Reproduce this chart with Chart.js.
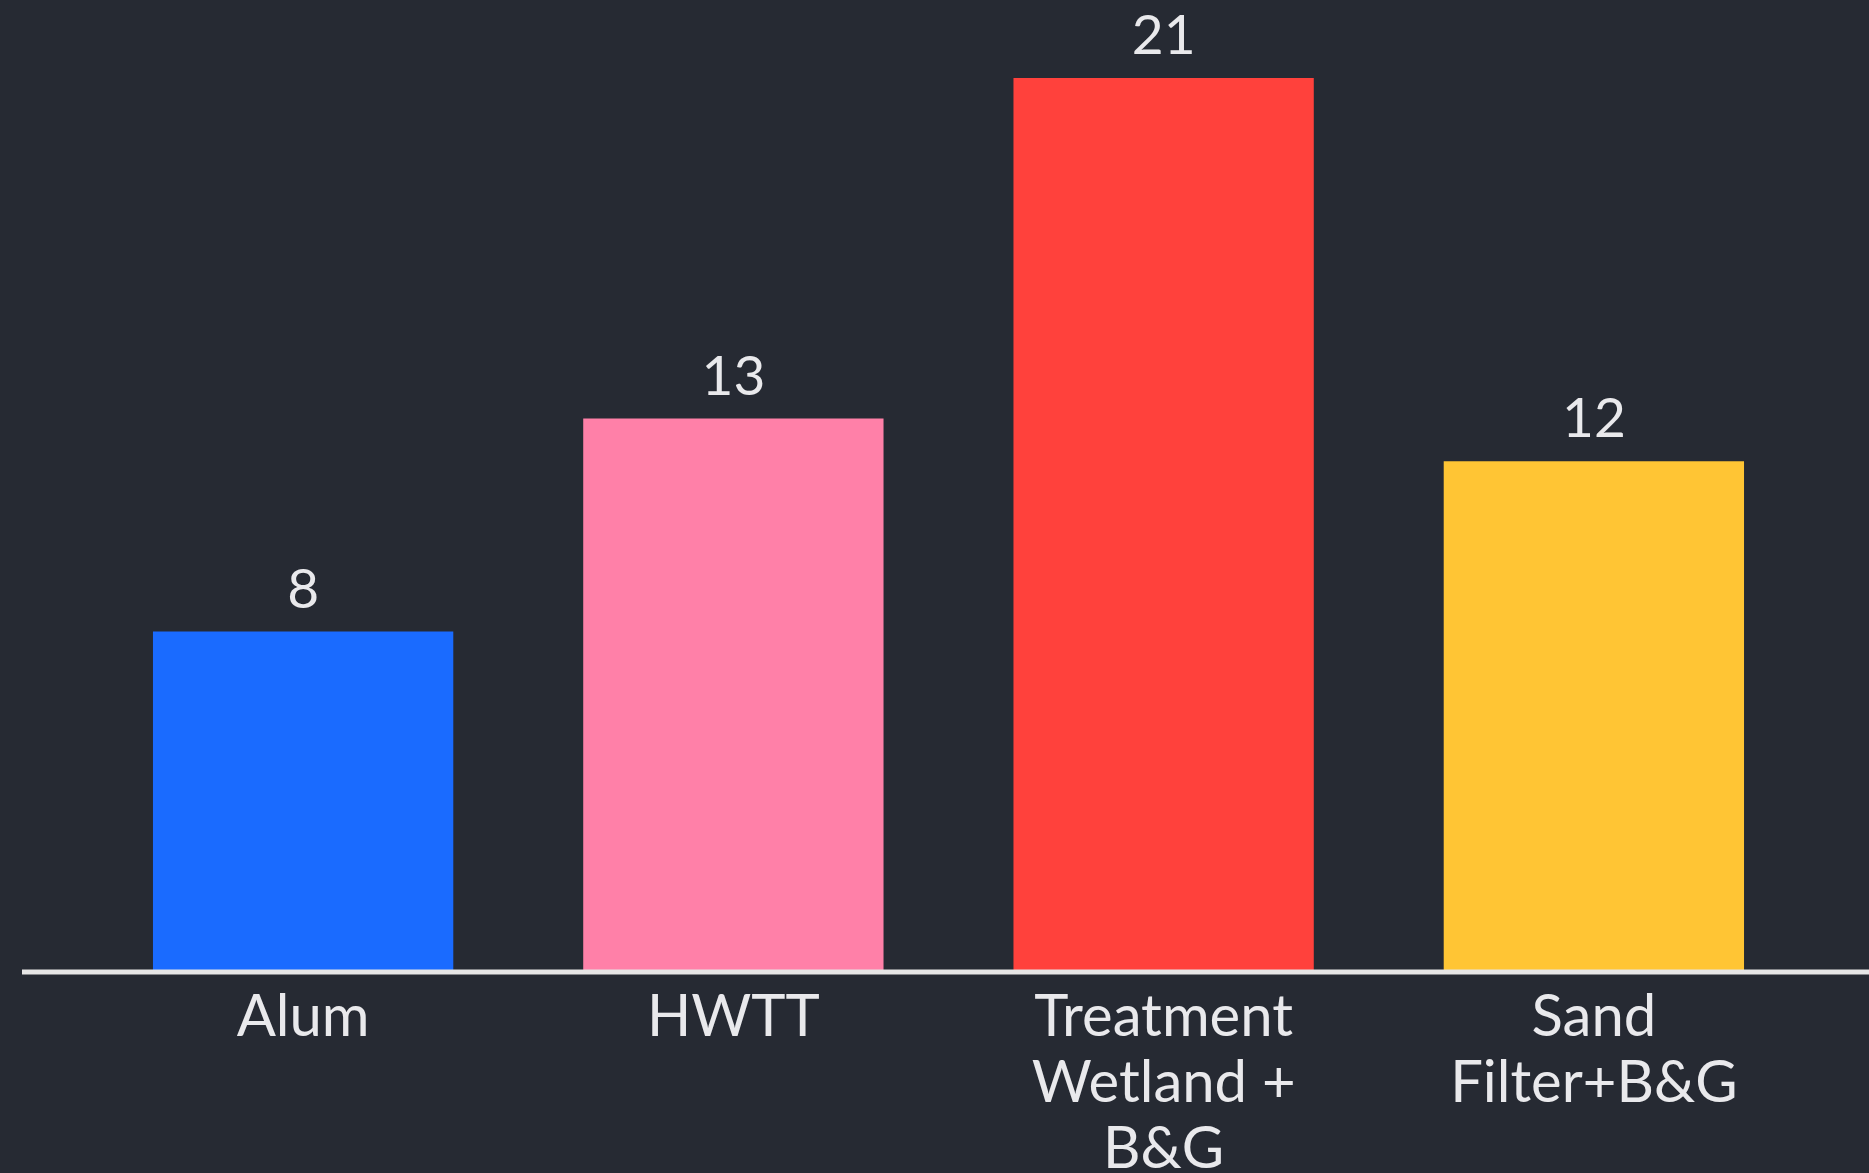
<!DOCTYPE html>
<html>
<head>
<meta charset="utf-8">
<script src="https://cdn.jsdelivr.net/npm/chart.js@4"></script>
<style>
  html, body { margin: 0; padding: 0; background: #262a33; }
  #wrap { width: 1869px; height: 1173px; position: relative; }
</style>
</head>
<body>
<div id="wrap"><canvas id="barChart"></canvas></div>
<script>
// data
var categories = ["Alum", "HWTT", ["Treatment", "Wetland +", "B&G"], ["Sand", "Filter+B&G"]];
var values = [8, 13, 21, 12];
var barColors = ['#1a6bff', '#ff80a8', '#ff413c', '#ffc534'];

var textColor = '#e9e9ec';

// value labels above the bars + long baseline
var barExtras = {
    id: 'barExtras',
    afterDatasetsDraw: function (chart) {
        var ctx = chart.ctx;
        var y0 = chart.scales.y.getPixelForValue(0);
        ctx.save();
        ctx.strokeStyle = '#e6e6e6';
        ctx.lineWidth = 5;
        ctx.beginPath();
        ctx.moveTo(22, y0);
        ctx.lineTo(chart.width, y0);
        ctx.stroke();

        ctx.fillStyle = textColor;
        ctx.font = '55px Lato';
        ctx.textAlign = 'center';
        ctx.textBaseline = 'bottom';
        chart.getDatasetMeta(0).data.forEach(function (bar, i) {
            ctx.fillText(values[i], bar.x, bar.y - 14);
        });
        ctx.restore();
    }
};

var ctx = document.getElementById('barChart').getContext('2d');
var chart = new Chart(ctx, {
    type: 'bar',
    data: {
        labels: categories,
        datasets: [{
            data: values,
            backgroundColor: barColors,
            borderWidth: 0,
            categoryPercentage: 1,
            barPercentage: 0.698
        }]
    },
    options: {
        responsive: true,
        maintainAspectRatio: false,
        animation: false,
        layout: {
            padding: { left: 88, right: 60, top: 78, bottom: 0 }
        },
        plugins: {
            legend: { display: false },
            tooltip: { enabled: false }
        },
        scales: {
            x: {
                grid: { display: false, drawTicks: false },
                border: { display: false },
                ticks: {
                    color: textColor,
                    padding: 12,
                    maxRotation: 0,
                    autoSkip: false,
                    font: { family: 'Lato', size: 58, lineHeight: 1.14 }
                },
                afterFit: function (scale) { scale.height = 201; }
            },
            y: {
                display: false,
                min: 0,
                max: 21
            }
        }
    },
    plugins: [barExtras]
});
</script>
</body>
</html>
